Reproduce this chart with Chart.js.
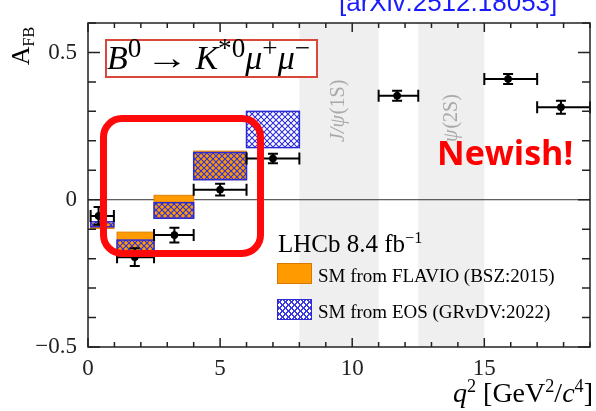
<!DOCTYPE html>
<html>
<head>
<meta charset="utf-8">
<script src="https://cdn.jsdelivr.net/npm/chart.js@4/dist/chart.umd.min.js"></script>
<style>
  body { margin: 0; background: #fff; }
  #wrap { position: relative; width: 596px; height: 411px; overflow: hidden; }
  #afb { position: absolute; left: 0; top: 0; }
  .txt { position: absolute; line-height: 1; white-space: nowrap; }
  .serif { font-family: "Liberation Serif", "DejaVu Serif", serif; }
  sup { font-size: 0.65em; line-height: 0; vertical-align: 0.55em; font-style: normal; }
  sub { font-size: 0.65em; line-height: 0; vertical-align: -0.3em; }
  .swatch { position: absolute; width: 33px; height: 19px; }
  .title sup { font-size: 0.8em; vertical-align: 0.45em; }
  .arrow { display: inline-block; margin: 0 11px 0 9px; transform: scaleX(1.25); }
</style>
</head>
<body>
<div id="wrap">
  <canvas id="afb" width="596" height="411"></canvas>

  <div class="txt" style="left:339px; top:-11px; font-family:'Liberation Sans',Arial,sans-serif; font-size:26px; color:#1a1aff;">[arXiv:2512.18053]</div>

  <div style="position:absolute; left:105px; top:39px; width:209px; height:35px; border:2px solid #d9483b; background:#fff;"></div>
  <div class="txt serif title" style="left:107px; top:41px; font-size:34px; color:#000;"><i>B</i><sup>0</sup><span class="arrow">→</span><i>K</i><sup>*0</sup><i>μ</i><sup>+</sup><i>μ</i><sup>−</sup></div>

  <div class="txt" style="left:437px; top:135px; font-family:'Open Sans',sans-serif; font-weight:bold; font-size:34px; color:#ff0000;">Newish!</div>

  <div class="txt serif" style="left:278px; top:231px; font-size:25px; color:#000;">LHCb 8.4 fb<sup>−1</sup></div>
  <div class="swatch" style="left:277px; top:263px; background:#ff9a00; border:1.5px solid #d87800;"></div>
  <div class="txt serif" style="left:318px; top:266px; font-size:19px; color:#000;">SM from FLAVIO (BSZ:2015)</div>
  <div class="swatch" style="left:277px; top:299px; border:1.5px solid #2b2bd6; background:
       repeating-linear-gradient(45deg, #3a3ae0 0 1.1px, transparent 1.1px 4.2px),
       repeating-linear-gradient(-45deg, #3a3ae0 0 1.1px, transparent 1.1px 4.2px),
       #fff;"></div>
  <div class="txt serif" style="left:318px; top:302px; font-size:19px; color:#000;">SM from EOS (GRvDV:2022)</div>

  <div class="txt serif" style="right:3px; top:379px; font-size:28px; color:#000;"><i>q</i><sup>2</sup> [GeV<sup>2</sup>/<i>c</i><sup>4</sup>]</div>
  <div class="txt serif" style="left:2px; top:33px; font-size:26px; color:#000; transform:rotate(-90deg); transform-origin:center;">A<sub style="font-size:0.62em">FB</sub></div>

  <div style="position:absolute; left:100px; top:115px; width:150px; height:128px; border:7px solid #ff0a0a; border-radius:22px;"></div>
</div>

<script>
// q2 bins [GeV^2/c^4]
const binLo = [0.1, 1.1, 2.5, 4.0, 6.0, 11.0, 15.0, 17.0];
const binHi = [0.98, 2.5, 4.0, 6.0, 8.0, 12.5, 17.0, 19.0];
const q2Mean = [0.4, 1.77, 3.27, 5.0, 7.0, 11.7, 15.9, 17.9];

// LHCb 8.4 fb-1 measurement
const afbVal = [-0.055, -0.195, -0.12, 0.034, 0.14, 0.353, 0.41, 0.314];
const afbErr = [0.03, 0.03, 0.025, 0.02, 0.016, 0.017, 0.017, 0.022];

// SM predictions (band top / bottom per bin)
const flavioHi = [-0.08, -0.11, 0.015, 0.165, null, null, null, null];
const flavioLo = [-0.098, -0.177, -0.062, 0.068, null, null, null, null];
const eosHi = [-0.075, -0.137, -0.01, 0.16, 0.30, null, null, null];
const eosLo = [-0.092, -0.177, -0.063, 0.068, 0.177, null, null, null];

// charmonium vetoed regions
const vetoLo = [8.0, 12.5];
const vetoHi = [11.0, 15.0];
const vetoName = [['J/ψ', '(1S)'], ['ψ', '(2S)']];

// labelled ticks
const xLabels = [0, 5, 10, 15];
const yLabels = [-0.5, 0, 0.5];

function hatch(ctx) {
    const c = document.createElement('canvas');
    c.width = 6; c.height = 6;
    const g = c.getContext('2d');
    g.strokeStyle = '#2f2fe0';
    g.lineWidth = 1.1;
    g.beginPath();
    g.moveTo(0, 0); g.lineTo(6, 6);
    g.moveTo(6, 0); g.lineTo(0, 6);
    g.stroke();
    return ctx.createPattern(c, 'repeat');
}

const drawPlot = {
    id: 'drawPlot',
    beforeDatasetsDraw(chart) {
        const ctx = chart.ctx;
        const x = chart.scales.x, y = chart.scales.y;
        const a = chart.chartArea;
        ctx.save();
        // vetoed bands
        vetoLo.forEach((lo, i) => {
            const x0 = x.getPixelForValue(lo), x1 = x.getPixelForValue(vetoHi[i]);
            ctx.fillStyle = '#efefef';
            ctx.fillRect(x0, a.top, x1 - x0, a.bottom - a.top);
            ctx.save();
            ctx.translate((x0 + x1) / 2, a.top + 119);
            ctx.rotate(-Math.PI / 2);
            ctx.fillStyle = '#a8a8a8';
            ctx.textBaseline = 'middle';
            ctx.font = 'italic 20px "Liberation Serif"';
            ctx.fillText(vetoName[i][0], 0, 0);
            const w = ctx.measureText(vetoName[i][0]).width;
            ctx.font = '20px "Liberation Serif"';
            ctx.fillText(vetoName[i][1], w + 1, 0);
            ctx.restore();
        });
        // zero line
        ctx.strokeStyle = '#333';
        ctx.lineWidth = 1;
        ctx.beginPath();
        ctx.moveTo(a.left, y.getPixelForValue(0));
        ctx.lineTo(a.right, y.getPixelForValue(0));
        ctx.stroke();
        // SM boxes
        const pat = hatch(ctx);
        binLo.forEach((lo, i) => {
            const x0 = x.getPixelForValue(lo), x1 = x.getPixelForValue(binHi[i]);
            if (flavioHi[i] !== null) {
                const y0 = y.getPixelForValue(flavioHi[i]), y1 = y.getPixelForValue(flavioLo[i]);
                ctx.fillStyle = '#ff9a00';
                ctx.fillRect(x0, y0, x1 - x0, y1 - y0);
                ctx.strokeStyle = '#e08000';
                ctx.lineWidth = 1;
                ctx.strokeRect(x0, y0, x1 - x0, y1 - y0);
            }
            if (eosHi[i] !== null) {
                const y0 = y.getPixelForValue(eosHi[i]), y1 = y.getPixelForValue(eosLo[i]);
                ctx.fillStyle = pat;
                ctx.fillRect(x0, y0, x1 - x0, y1 - y0);
                ctx.strokeStyle = '#2b2bd6';
                ctx.lineWidth = 1.5;
                ctx.strokeRect(x0, y0, x1 - x0, y1 - y0);
            }
        });
        // error bars
        ctx.strokeStyle = '#000';
        ctx.lineWidth = 2;
        binLo.forEach((lo, i) => {
            const x0 = x.getPixelForValue(lo), x1 = x.getPixelForValue(binHi[i]);
            const xm = x.getPixelForValue(q2Mean[i]);
            const yc = y.getPixelForValue(afbVal[i]);
            const yt = y.getPixelForValue(afbVal[i] + afbErr[i]);
            const yb = y.getPixelForValue(afbVal[i] - afbErr[i]);
            ctx.beginPath();
            ctx.moveTo(x0, yc); ctx.lineTo(x1, yc);
            ctx.moveTo(x0, yc - 6); ctx.lineTo(x0, yc + 6);
            ctx.moveTo(x1, yc - 6); ctx.lineTo(x1, yc + 6);
            ctx.moveTo(xm, yt); ctx.lineTo(xm, yb);
            ctx.moveTo(xm - 5, yt); ctx.lineTo(xm + 5, yt);
            ctx.moveTo(xm - 5, yb); ctx.lineTo(xm + 5, yb);
            ctx.stroke();
        });
        ctx.restore();
    },
    afterDraw(chart) {
        const ctx = chart.ctx;
        const x = chart.scales.x, y = chart.scales.y;
        const a = chart.chartArea;
        ctx.save();
        ctx.strokeStyle = '#222';
        ctx.lineWidth = 1.5;
        ctx.strokeRect(a.left, a.top, a.right - a.left, a.bottom - a.top);
        ctx.beginPath();
        x.ticks.forEach(t => {
            const px = x.getPixelForValue(t.value);
            const len = Math.abs(t.value % 5) < 1e-6 ? 9 : 5;
            ctx.moveTo(px, a.bottom); ctx.lineTo(px, a.bottom - len);
            ctx.moveTo(px, a.top); ctx.lineTo(px, a.top + len);
        });
        y.ticks.forEach(t => {
            const py = y.getPixelForValue(t.value);
            const major = yLabels.some(v => Math.abs(v - t.value) < 1e-6);
            const len = major ? 12 : 8;
            ctx.moveTo(a.left, py); ctx.lineTo(a.left + len, py);
            ctx.moveTo(a.right, py); ctx.lineTo(a.right - len, py);
        });
        ctx.stroke();
        ctx.restore();
    }
};

new Chart(document.getElementById('afb'), {
    type: 'scatter',
    data: {
        datasets: [{
            label: 'LHCb 8.4 fb-1',
            data: q2Mean.map((q, i) => ({ x: q, y: afbVal[i] })),
            pointRadius: 3.5,
            backgroundColor: '#000',
            borderColor: '#000'
        }]
    },
    options: {
        responsive: false,
        animation: false,
        layout: { padding: { top: 23, right: 6, left: 0, bottom: 0 } },
        plugins: {
            legend: { display: false },
            tooltip: { enabled: false }
        },
        scales: {
            x: {
                type: 'linear',
                min: 0,
                max: 19,
                afterFit: s => { s.height = 64; },
                grid: { display: false },
                border: { display: false },
                ticks: {
                    stepSize: 1,
                    autoSkip: false,
                    maxRotation: 0,
                    padding: 0,
                    color: '#222',
                    font: { family: 'Liberation Serif', size: 23 },
                    callback: v => xLabels.includes(v) ? String(v) : ''
                }
            },
            y: {
                min: -0.5,
                max: 0.6,
                afterFit: s => { s.width = 88; },
                grid: { display: false },
                border: { display: false },
                ticks: {
                    stepSize: 0.1,
                    autoSkip: false,
                    padding: 3,
                    color: '#222',
                    font: { family: 'Liberation Serif', size: 23 },
                    callback: v => {
                        const l = yLabels.find(t => Math.abs(t - v) < 1e-6);
                        if (l === undefined) return '';
                        return l < 0 ? '\u2212' + Math.abs(l) : String(l);
                    }
                }
            }
        }
    },
    plugins: [drawPlot]
});
</script>
</body>
</html>
